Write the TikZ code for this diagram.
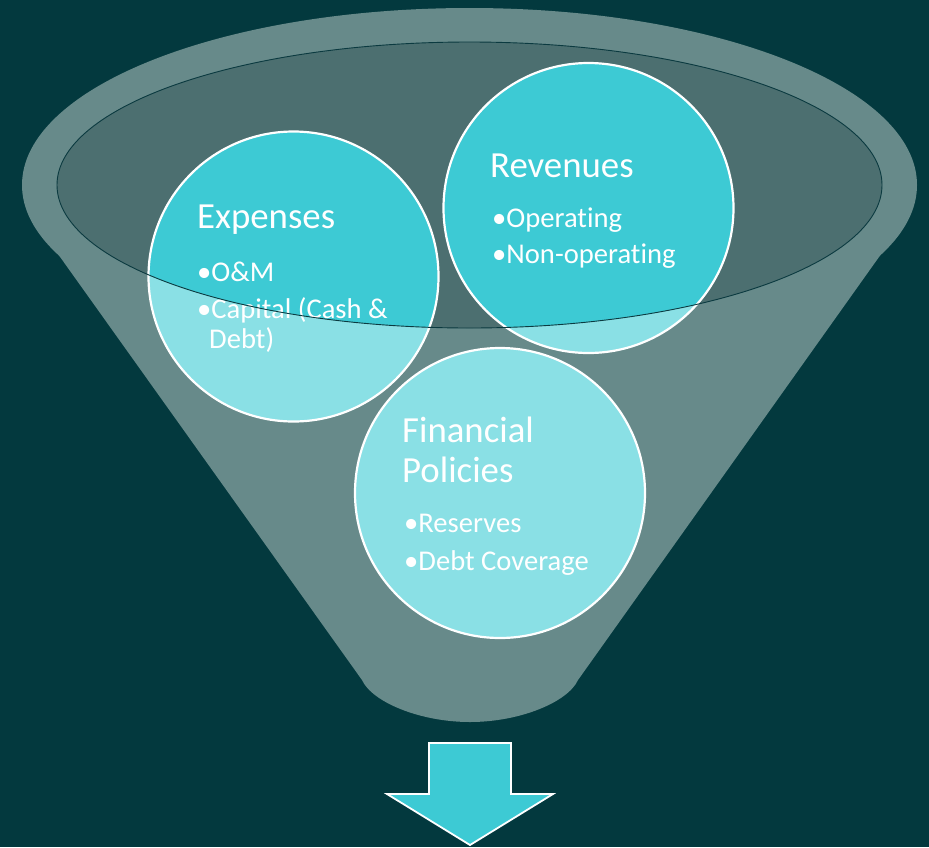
\documentclass[tikz,border=0pt]{standalone}
\usepackage{fontspec}
\setmainfont{Carlito}[Ligatures={NoCommon}]
\definecolor{bgc}{HTML}{03393E}
\definecolor{funnelc}{HTML}{678A8A}
\definecolor{innerc}{HTML}{4C6F70}
\definecolor{rimc}{HTML}{0B3A40}
\definecolor{cyandark}{HTML}{3DCAD4}
\definecolor{cyanlight}{HTML}{8AE0E5}
\tikzset{
  ttl/.style={anchor=base west, inner sep=0pt, text=white, font=\fontsize{36.8}{40}\selectfont},
  bul/.style={anchor=base west, inner sep=0pt, text=white, font=\fontsize{28.6}{32}\selectfont},
  circ/.style={draw=white, line width=2.2pt},
}
\begin{document}
\begin{tikzpicture}[x=1pt,y=-1pt]
\useasboundingbox (0,0) rectangle (929,847);
\fill[bgc] (0,0) rectangle (929,847);
% funnel body
\coordinate (fc) at (469.5,185);
\fill[funnelc] (fc) ellipse [x radius=447.5, y radius=177];
\fill[funnelc] (28,212) -- (911,212) -- (578,680)
  .. controls (568,702) and (520,722) .. (470,722)
  .. controls (420,722) and (372,702) .. (362,680) -- cycle;
% inner ellipse
\fill[innerc] (fc) ellipse [x radius=412.5, y radius=143];
% circles
\coordinate (ce) at (293.5,276.5);
\coordinate (cr) at (588.5,208);
\coordinate (cf) at (500,493);
\fill[cyanlight] (ce) circle [radius=145];
\fill[cyanlight] (cr) circle [radius=145];
\fill[cyanlight] (cf) circle [radius=145];
\begin{scope}
  \clip (fc) ellipse [x radius=412.5, y radius=143];
  \fill[cyandark] (ce) circle [radius=145];
  \fill[cyandark] (cr) circle [radius=145];
  \fill[cyandark] (cf) circle [radius=145];
\end{scope}
\draw[circ] (ce) circle [radius=145];
\draw[circ] (cr) circle [radius=145];
\draw[circ] (cf) circle [radius=145];
% texts
\node[ttl] (et) at (197,228) {Expenses};
\node[bul] (e1) at (197,281) {•O\&M};
\node[bul] (e2) at (197,318) {•Capital (Cash \&};
\node[bul] (e3) at (209,348) {Debt)};
\node[ttl] (rt) at (490,177) {Revenues};
\node[bul] (r1) at (492,227) {•Operating};
\node[bul] (r2) at (492,263) {•Non-operating};
\node[ttl] (ft1) at (402,442) {Financial};
\node[ttl] (ft2) at (402,482) {Policies};
\node[bul] (f1) at (404,532) {•Reserves};
\node[bul] (f2) at (404,570) {•Debt Coverage};
% inner ellipse rim
\draw[rimc, line width=0.9pt] (fc) ellipse [x radius=412.5, y radius=143];
% arrow
\draw[fill=cyandark, draw=white, line width=1.8pt, line join=miter]
  (429,743) -- (511,743) -- (511,794) -- (553,794) -- (470,845)
  -- (387,794) -- (429,794) -- cycle;
\end{tikzpicture}
\end{document}
